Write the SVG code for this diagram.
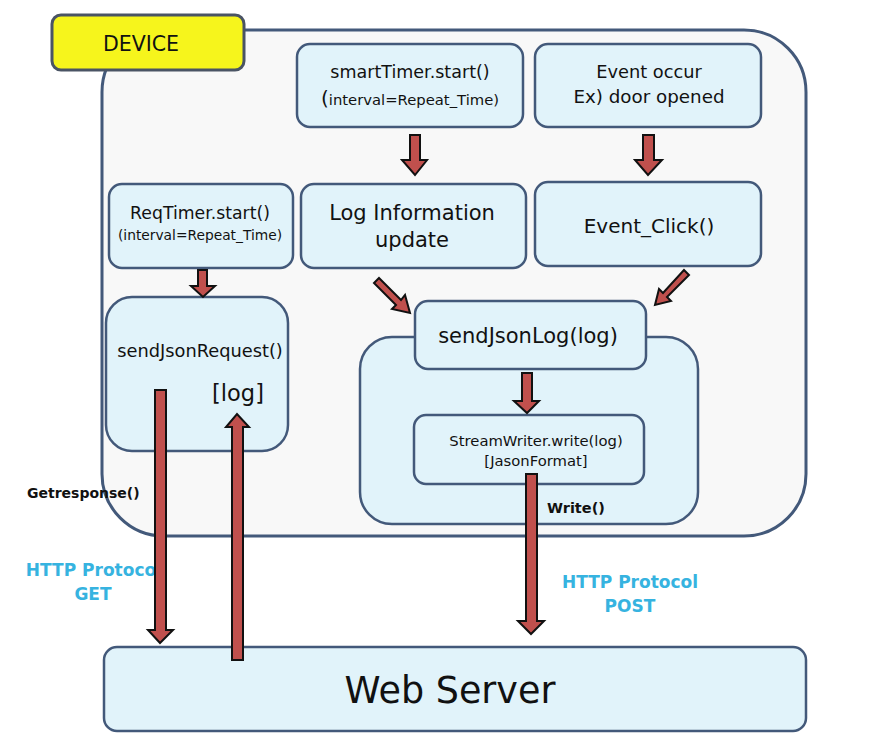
<svg xmlns="http://www.w3.org/2000/svg" width="873" height="747" viewBox="0 0 873 747">
<style>
.box{fill:#e1f3fa;stroke:#43597a;stroke-width:2.5}
.t{font-family:"DejaVu Sans","Noto Sans",sans-serif;fill:#111;text-anchor:middle}
.b{font-family:"DejaVu Sans","Noto Sans",sans-serif;font-weight:bold;fill:#111}
.c{font-family:"DejaVu Sans","Noto Sans",sans-serif;font-weight:bold;fill:#36b3e0;text-anchor:middle;font-size:17px}
.arr{fill:#c0504d;stroke:#111;stroke-width:2;stroke-linejoin:miter}
</style>
<rect width="873" height="747" fill="#fff"/>
<g id="device">
<rect x="102" y="30" width="704" height="506" rx="62" fill="#f8f8f8" stroke="#43597a" stroke-width="3"/>
</g>
<g id="device-label">
<rect x="52" y="15" width="192" height="55" rx="9" fill="#f6f51c" stroke="#4a5464" stroke-width="3"/>
<text class="t" x="141" y="51" font-size="20.5">DEVICE</text>
</g>
<g id="smartTimer">
<rect class="box" x="297" y="44" width="226" height="83" rx="13"/>
<text class="t" x="410" y="78" font-size="17.5">smartTimer.start()</text>
<text class="t" x="410" y="105" font-size="14.8"><tspan font-size="20">(</tspan>interval=Repeat_Time)</text>
</g>
<g id="eventOccur">
<rect class="box" x="535" y="44" width="226" height="83" rx="13"/>
<text class="t" x="649" y="78" font-size="17.8">Event occur</text>
<text class="t" x="649" y="103" font-size="18.3">Ex) door opened</text>
</g>
<g id="reqTimer">
<rect class="box" x="109" y="184" width="184" height="84" rx="13"/>
<text class="t" x="200" y="219" font-size="17.3">ReqTimer.start()</text>
<text class="t" x="200" y="240" font-size="13.8">(interval=Repeat_Time)</text>
</g>
<g id="logInfo">
<rect class="box" x="301" y="184" width="225" height="84" rx="13"/>
<text class="t" x="412" y="220" font-size="21">Log Information</text>
<text class="t" x="412" y="247" font-size="21">update</text>
</g>
<g id="eventClick">
<rect class="box" x="535" y="182" width="226" height="84" rx="13"/>
<text class="t" x="649" y="233" font-size="20">Event_Click()</text>
</g>
<g id="sendJsonRequest">
<rect class="box" x="106" y="297" width="182" height="154" rx="26"/>
<text class="t" x="200" y="357" font-size="17.8">sendJsonRequest()</text>
<text class="t" x="238" y="401" font-size="22.5">[log]</text>
</g>
<g id="logContainer">
<rect class="box" x="360" y="337" width="338" height="187" rx="32"/>
</g>
<g id="sendJsonLog">
<rect class="box" x="415" y="301" width="231" height="68" rx="13"/>
<text class="t" x="528" y="343" font-size="21">sendJsonLog(log)</text>
</g>
<g id="streamWriter">
<rect class="box" x="414" y="415" width="230" height="69" rx="12"/>
<text class="t" x="536" y="446" font-size="14.8">StreamWriter.write(log)</text>
<text class="t" x="536" y="466" font-size="14.8">[JasonFormat]</text>
</g>
<g id="webServer">
<rect class="box" x="104" y="647" width="702" height="84" rx="13"/>
<text class="t" x="450" y="703" font-size="36.5">Web Server</text>
</g>
<g id="labels">
<text class="b" x="27" y="498" font-size="14">Getresponse()</text>
<text class="b" x="547" y="513" font-size="14.5">Write()</text>
<text class="c" x="91" y="576">HTTP Protoco</text>
<text class="c" x="93" y="600">GET</text>
<text class="c" x="630" y="588">HTTP Protocol</text>
<text class="c" x="630" y="612">POST</text>
</g>
<g id="connectors">
<polygon class="arr" points="410,135 420,135 420,160 427,160 415,175 402,160 410,160"/>
<polygon class="arr" points="643,135 654,135 654,160 662,160 648,175 635,160 643,160"/>
<polygon class="arr" points="198,270 207,270 207,286 215,286 203,297 191,286 198,286"/>
<polygon class="arr" points="522,373 532,373 532,401 539,401 527,413 514,401 522,401"/>
<polygon class="arr" points="379,278 401,300 405,295 410,313 392,309 396,305 374,283"/>
<polygon class="arr" points="684,270 689,275 667,297 671,301 655,305 659,289 663,293"/>
<polygon class="arr" points="155,390 166,390 166,630 173,630 160,643 148,630 155,630"/>
<polygon class="arr" points="232,660 243,660 243,427 249,427 237,414 226,427 232,427"/>
<polygon class="arr" points="526,474 537,474 537,621 544,621 531,634 518,621 526,621"/>
</g>
</svg>
